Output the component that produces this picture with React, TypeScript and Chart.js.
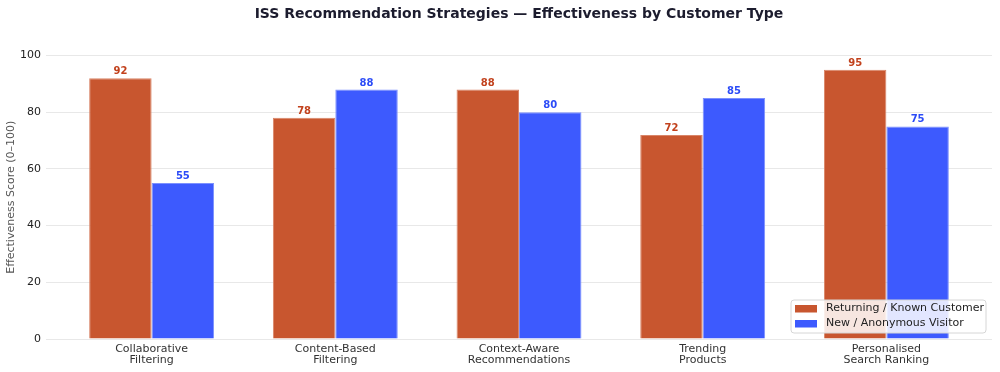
import React, { useEffect, useRef } from "react";
import { Chart, registerables } from "chart.js";

Chart.register(...registerables);

const categories: string[][] = [
  ["Collaborative", "Filtering"],
  ["Content-Based", "Filtering"],
  ["Context-Aware", "Recommendations"],
  ["Trending", "Products"],
  ["Personalised", "Search Ranking"],
];
const returningScores = [92, 78, 88, 72, 95];
const newVisitorScores = [55, 88, 80, 85, 75];
const seriesNames = ["Returning / Known Customer", "New / Anonymous Visitor"];
const yTicks = [0, 20, 40, 60, 80, 100];
const chartTitle = "ISS Recommendation Strategies — Effectiveness by Customer Type";

const RED = "#C8562F";
const BLUE = "#3D5AFE";
const RED_EDGE = "#D98568";
const BLUE_EDGE = "#7C90FE";
const RED_TEXT = "#C2411C";
const BLUE_TEXT = "#2B4BF7";
const FONT = "DejaVu Sans";

// Title centred over the plotting area
const centredTitle = {
  id: "centredTitle",
  afterDraw(chart: any) {
    const ctx = chart.ctx;
    const area = chart.chartArea;
    ctx.save();
    ctx.font = `bold 14px "${FONT}"`;
    ctx.fillStyle = "#1c1c2e";
    ctx.textAlign = "center";
    ctx.textBaseline = "middle";
    ctx.fillText(chartTitle, (area.left + area.right) / 2, 14.5);
    ctx.restore();
  },
};

// Value labels above each bar
const valueLabels = {
  id: "valueLabels",
  afterDatasetsDraw(chart: any) {
    const ctx = chart.ctx;
    ctx.save();
    ctx.font = `bold 10px "${FONT}"`;
    ctx.textAlign = "center";
    ctx.textBaseline = "bottom";
    chart.data.datasets.forEach((ds: any, di: number) => {
      const meta = chart.getDatasetMeta(di);
      ctx.fillStyle = ds.labelColor;
      meta.data.forEach((bar: any, i: number) => {
        ctx.fillText(String(ds.data[i].y), bar.x, bar.y - 1.5);
      });
    });
    ctx.restore();
  },
};

// Legend box inside the lower-right corner of the plot
const insideLegend = {
  id: "insideLegend",
  afterDraw(chart: any) {
    const ctx = chart.ctx;
    const area = chart.chartArea;
    const boxW = 195;
    const boxH = 33;
    const x0 = area.right - 6 - boxW;
    const y0 = area.bottom - 6 - boxH;
    ctx.save();
    ctx.beginPath();
    const r = 3;
    ctx.moveTo(x0 + r, y0);
    ctx.arcTo(x0 + boxW, y0, x0 + boxW, y0 + boxH, r);
    ctx.arcTo(x0 + boxW, y0 + boxH, x0, y0 + boxH, r);
    ctx.arcTo(x0, y0 + boxH, x0, y0, r);
    ctx.arcTo(x0, y0, x0 + boxW, y0, r);
    ctx.closePath();
    ctx.fillStyle = "rgba(255,255,255,0.85)";
    ctx.fill();
    ctx.strokeStyle = "#d6d6d6";
    ctx.lineWidth = 1;
    ctx.stroke();
    ctx.font = `11px "${FONT}"`;
    ctx.textBaseline = "middle";
    ctx.textAlign = "left";
    chart.data.datasets.forEach((ds: any, i: number) => {
      const cy = y0 + 8.5 + i * 15;
      ctx.fillStyle = ds.backgroundColor;
      ctx.fillRect(x0 + 4, cy - 3.5, 22, 7.5);
      ctx.fillStyle = "#222";
      ctx.fillText(ds.label, x0 + 35, cy);
    });
    ctx.restore();
  },
};

export default function App() {
  const canvasRef = useRef<HTMLCanvasElement | null>(null);

  useEffect(() => {
    if (!canvasRef.current) return;
    Chart.defaults.font.family = FONT;
    const chart = new Chart(canvasRef.current, {
      type: "bar",
      data: {
        datasets: [
          {
            label: seriesNames[0],
            data: returningScores.map((v, i) => ({ x: i, y: v })),
            backgroundColor: RED,
            borderColor: RED_EDGE,
            borderWidth: 1,
            labelColor: RED_TEXT,
          } as any,
          {
            label: seriesNames[1],
            data: newVisitorScores.map((v, i) => ({ x: i, y: v })),
            backgroundColor: BLUE,
            borderColor: BLUE_EDGE,
            borderWidth: 1,
            labelColor: BLUE_TEXT,
          } as any,
        ],
      },
      options: {
        responsive: false,
        animation: false,
        layout: { padding: { left: 0, right: 8, top: 55.5, bottom: 0 } },
        datasets: { bar: { categoryPercentage: 0.68, barPercentage: 1 } },
        plugins: {
          legend: { display: false },
          tooltip: { enabled: false },
          title: { display: false },
        },
        scales: {
          x: {
            type: "linear",
            offset: false,
            bounds: "ticks",
            min: -0.575,
            max: 4.575,
            grid: { display: false },
            border: { display: false },
            afterBuildTicks: (scale: any) => {
              scale.ticks = categories.map((_, i) => ({ value: i }));
            },
            afterFit: (scale: any) => {
              scale.height = 33;
            },
            ticks: {
              autoSkip: false,
              maxRotation: 0,
              padding: -3,
              color: "#333",
              font: { family: FONT, size: 11, lineHeight: 1.0 },
              callback: (v: any) => categories[Math.round(Number(v))] ?? "",
            },
          },
          y: {
            min: 0,
            max: 100,
            grid: { color: "#e8e8e8", lineWidth: 1, drawTicks: false },
            border: { display: false },
            afterBuildTicks: (scale: any) => {
              scale.ticks = yTicks.map((v) => ({ value: v }));
            },
            afterFit: (scale: any) => {
              scale.width = 46;
            },
            ticks: {
              padding: 5,
              color: "#222",
              font: { family: FONT, size: 11 },
            },
            title: {
              display: true,
              text: "Effectiveness Score (0–100)",
              color: "#555",
              font: { family: FONT, size: 11 },
              padding: { top: 4.4, bottom: 0 },
            },
          },
        },
      },
      plugins: [valueLabels, insideLegend, centredTitle],
    });
    return () => chart.destroy();
  }, []);

  return (
    <div style={{ position: "absolute", left: 0, top: 0, width: 1000, height: 372, background: "#fff" }}>
      <canvas ref={canvasRef} width={1000} height={372} />
    </div>
  );
}
